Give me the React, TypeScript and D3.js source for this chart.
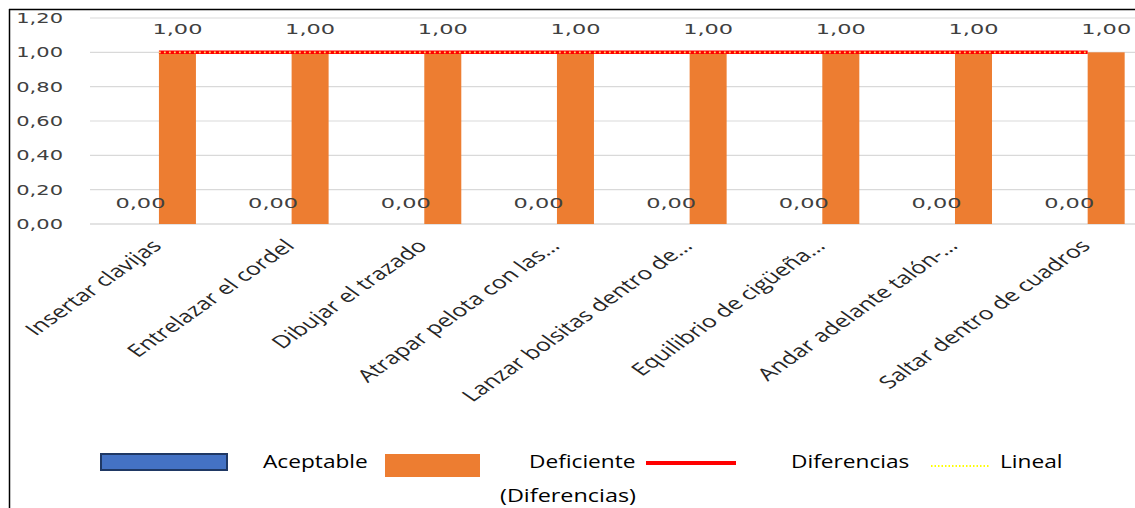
import React from "react";
import * as d3 from "d3";

const categories = [
  "Insertar clavijas",
  "Entrelazar el cordel",
  "Dibujar el trazado",
  "Atrapar pelota con las…",
  "Lanzar bolsitas dentro de…",
  "Equilibrio de cigüeña…",
  "Andar adelante talón-…",
  "Saltar dentro de cuadros",
];
const aceptable = [0, 0, 0, 0, 0, 0, 0, 0];
const deficiente = [1, 1, 1, 1, 1, 1, 1, 1];
const diferencias = [1, 1, 1, 1, 1, 1, 1, 1];
const yTicks = [0, 0.2, 0.4, 0.6, 0.8, 1.0, 1.2];
const seriesNames = ["Aceptable", "Deficiente"];

const W = 1135;
const H = 508;
const SX = 1.42; // horizontal stretch of the source image

const fmt = (v: number) => v.toFixed(2).replace(".", ",");

const numFont = "'DejaVu Sans', sans-serif";
const labFont = "'Open Sans', sans-serif";

function SText({ x, y, anchor = "start", size, font, fill = "#262626", sx = SX, children }: any) {
  return (
    <text
      transform={`translate(${x},${y}) scale(${sx},1)`}
      textAnchor={anchor}
      fontFamily={font}
      fontSize={size}
      fill={fill}
    >
      {children}
    </text>
  );
}

export default function App() {
  const y = d3.scaleLinear().domain([0, 1.2]).range([224, 18]);
  const x0 = d3.scaleBand<string>().domain(categories).range([92.6, 1154]).padding(0);
  const bw = x0.bandwidth();
  const barW = 37;
  const x1 = d3.scaleBand<string>().domain(seriesNames).range([-barW, barW]).padding(0);
  const cx = (c: string) => (x0(c) as number) + bw / 2;

  const lineGen = d3
    .line<number>()
    .x((_, i) => cx(categories[i]))
    .y((d) => y(d));

  // linear trendline (least squares) of Diferencias
  const xs = diferencias.map((_, i) => i + 1);
  const mx = d3.mean(xs) as number;
  const my = d3.mean(diferencias) as number;
  const sxx = d3.sum(xs, (v) => (v - mx) * (v - mx));
  const sxy = d3.sum(xs, (v, i) => (v - mx) * (diferencias[i] - my));
  const slope = sxx === 0 ? 0 : sxy / sxx;
  const intercept = my - slope * mx;
  const trend = xs.map((v) => intercept + slope * v);

  return (
    <svg
      width={W}
      height={H}
      style={{ position: "absolute", left: 0, top: 0, background: "#fff" }}
    >
      <rect x={0} y={0} width={W} height={H} fill="#fff" />
      {/* gridlines */}
      {yTicks.map((t) => (
        <line
          key={t}
          x1={90}
          x2={W}
          y1={y(t)}
          y2={y(t)}
          stroke={t === 0 ? "#C8C8C8" : "#D9D9D9"}
          strokeWidth={1.2}
        />
      ))}
      {/* y tick labels */}
      {yTicks.map((t) => (
        <SText key={t} x={63} y={y(t) + 5} anchor="end" size={14.5} font={numFont} sx={1.45} fill="#404040">
          {fmt(t)}
        </SText>
      ))}
      {/* bars */}
      {categories.map((c, i) => (
        <g key={c}>
          <rect
            x={cx(c) + (x1("Aceptable") as number)}
            y={y(aceptable[i])}
            width={x1.bandwidth()}
            height={y(0) - y(aceptable[i])}
            fill="#4472C4"
          />
          <rect
            x={cx(c) + (x1("Deficiente") as number)}
            y={y(deficiente[i])}
            width={x1.bandwidth()}
            height={y(0) - y(deficiente[i])}
            fill="#ED7D31"
          />
        </g>
      ))}
      {/* line + trendline */}
      <path d={lineGen(diferencias) as string} fill="none" stroke="#FF0000" strokeWidth={3.5} />
      <path
        d={lineGen(trend) as string}
        fill="none"
        stroke="#FFD966"
        strokeWidth={1.8}
        strokeDasharray="1.8 3.2"
      />
      {/* data labels */}
      {categories.map((c, i) => (
        <g key={c + "l"}>
          <SText
            x={cx(c) + (x1("Aceptable") as number) + x1.bandwidth() / 2}
            y={y(aceptable[i]) - 16}
            anchor="middle"
            size={14.5}
            font={numFont}
            sx={1.55}
            fill="#404040"
          >
            {fmt(aceptable[i])}
          </SText>
          <SText
            x={cx(c) + (x1("Deficiente") as number) + x1.bandwidth() / 2}
            y={y(deficiente[i]) - 18}
            anchor="middle"
            size={14.5}
            font={numFont}
            sx={1.55}
            fill="#404040"
          >
            {fmt(deficiente[i])}
          </SText>
        </g>
      ))}
      {/* category labels */}
      {categories.map((c) => (
        <text
          key={c + "c"}
          transform={`translate(${cx(c) + 4},${247}) scale(${SX},1) rotate(-45)`}
          textAnchor="end"
          fontFamily={labFont}
          fontSize={17.5}
          fill="#262626"
        >
          {c}
        </text>
      ))}
      {/* legend */}
      <rect x={101} y={454} width={126} height={16} fill="#4472C4" stroke="#1F3864" strokeWidth={2} />
      <SText x={263} y={468} size={18} font={labFont} fill="#000" sx={1.26}>Aceptable</SText>
      <rect x={385} y={454} width={95} height={23} fill="#ED7D31" />
      <SText x={529} y={468} size={18} font={labFont} fill="#000" sx={1.26}>Deficiente</SText>
      <line x1={646} x2={736} y1={463} y2={463} stroke="#FF0000" strokeWidth={4} />
      <SText x={791} y={468} size={18} font={labFont} fill="#000" sx={1.26}>Diferencias</SText>
      <line x1={931} x2={990} y1={466} y2={466} stroke="#FFFF00" strokeWidth={1.8} strokeDasharray="1.5 2" />
      <SText x={1000} y={468} size={18} font={labFont} fill="#000" sx={1.26}>Lineal</SText>
      <SText x={500} y={502} size={18} font={labFont} fill="#000" sx={1.3}>(Diferencias)</SText>
      {/* frame */}
      <line x1={9} x2={W} y1={9.5} y2={9.5} stroke="#000" strokeWidth={1.5} />
      <line x1={9.5} x2={9.5} y1={9} y2={H} stroke="#000" strokeWidth={1.5} />
    </svg>
  );
}
